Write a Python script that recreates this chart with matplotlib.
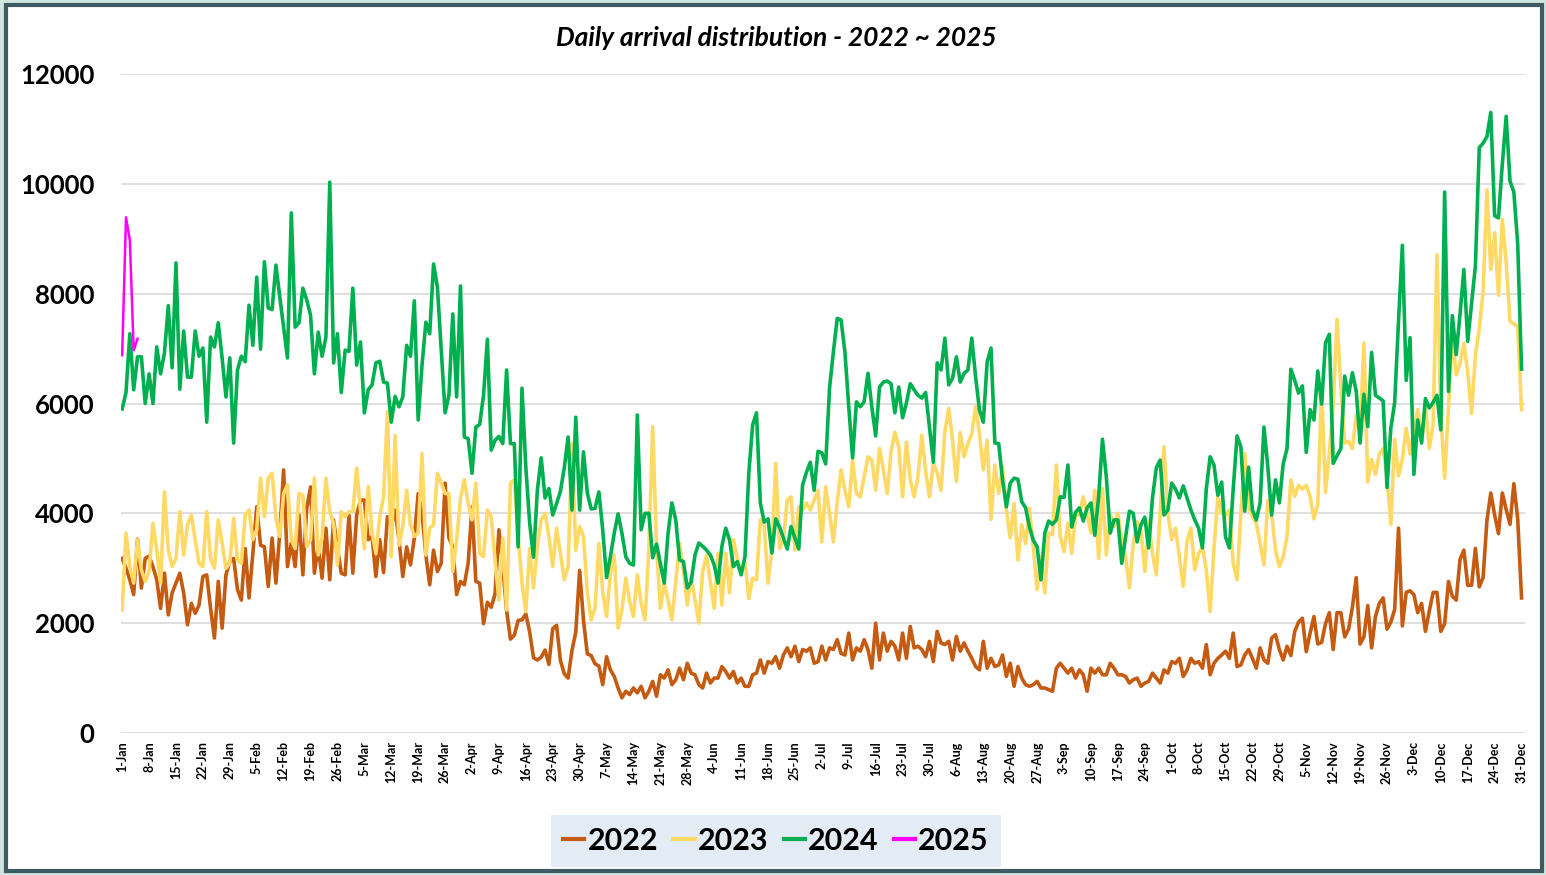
import numpy as np
import pandas as pd
import matplotlib
matplotlib.use("Agg")
import matplotlib.pyplot as plt
from matplotlib.patches import Rectangle

# daily arrivals, one row per week (1-Jan, 8-Jan, ...), last value is 31-Dec
arr_2022 = [
    3180, 3000, 2790, 2520, 3530, 2640, 3180,
    3220, 3030, 2790, 2270, 2910, 2150, 2550,
    2730, 2910, 2550, 1970, 2360, 2180, 2330,
    2850, 2880, 2270, 1730, 2760, 1910, 2880,
    3120, 3180, 2610, 2420, 3360, 2460, 3270,
    4120, 3420, 3390, 2670, 3550, 2730, 3640,
    4790, 3030, 3460, 3030, 3970, 2880, 4090,
    4480, 2910, 3390, 2820, 3730, 2790, 3880,
    3360, 2910, 2880, 3970, 2910, 3970, 4240,
    4240, 3520, 3580, 2850, 3520, 2920, 3940,
    3760, 4060, 3520, 2850, 3390, 3060, 3550,
    4360, 4000, 3240, 2700, 3330, 2940, 3090,
    4550, 3550, 3390, 2520, 2760, 2700, 3090,
    4120, 2760, 2730, 1990, 2380, 2290, 2530,
    3700, 3030, 2230, 1710, 1780, 2050, 2060,
    2170, 1840, 1370, 1330, 1380, 1510, 1250,
    1900, 1960, 1320, 1080, 1000, 1500, 1840,
    2960, 2050, 1440, 1410, 1260, 1220, 880,
    1390, 1150, 1030, 820, 640, 760, 700,
    820, 730, 850, 640, 760, 940, 670,
    1060, 1000, 1150, 880, 970, 1180, 970,
    1270, 1090, 1060, 880, 820, 1090, 910,
    1000, 1000, 1210, 1120, 1000, 1120, 910,
    1000, 850, 850, 1060, 1090, 1330, 1090,
    1300, 1270, 1390, 1180, 1420, 1550, 1390,
    1580, 1300, 1520, 1490, 1550, 1270, 1300,
    1580, 1330, 1550, 1520, 1700, 1450, 1420,
    1820, 1330, 1550, 1490, 1700, 1520, 1180,
    2000, 1330, 1820, 1490, 1670, 1580, 1330,
    1820, 1360, 1940, 1550, 1580, 1520, 1390,
    1670, 1300, 1850, 1640, 1610, 1670, 1330,
    1760, 1490, 1640, 1490, 1360, 1210, 1150,
    1670, 1180, 1360, 1210, 1240, 1420, 1030,
    1270, 850, 1210, 1000, 880, 850, 880,
    940, 820, 820, 790, 760, 1180, 1270,
    1180, 1090, 1180, 1000, 1150, 1060, 760,
    1180, 1090, 1180, 1060, 1060, 1270, 1180,
    1060, 1060, 1030, 910, 970, 1000, 850,
    910, 940, 1090, 1000, 910, 1150, 1090,
    1300, 1270, 1360, 1030, 1150, 1360, 1270,
    1300, 1180, 1610, 1060, 1270, 1360, 1420,
    1490, 1360, 1820, 1210, 1240, 1420, 1520,
    1360, 1180, 1550, 1330, 1270, 1730, 1790,
    1520, 1330, 1580, 1410, 1850, 2020, 2090,
    1480, 1820, 2120, 1620, 1650, 1990, 2190,
    1520, 2190, 2190, 1750, 1890, 2290, 2830,
    1620, 1750, 2320, 1550, 2120, 2360, 2460,
    1890, 2020, 2250, 3730, 1950, 2560, 2590,
    2520, 2190, 2360, 1850, 2220, 2560, 2560,
    1850, 1990, 2760, 2490, 2420, 3160, 3330,
    2690, 2690, 3360, 2660, 2830, 3870, 4370,
    3970, 3630, 4370, 4070, 3800, 4540, 3900,
    2460,
]

arr_2023 = [
    2240, 3640, 3030, 2730, 3520, 2970, 2760,
    2940, 3820, 3330, 2730, 4390, 3330, 3030,
    3180, 4030, 3240, 3790, 3970, 3520, 3090,
    3030, 4030, 3180, 3000, 3880, 3460, 3000,
    3090, 3910, 3150, 3090, 3970, 4060, 3520,
    3700, 4640, 3940, 4640, 4730, 3910, 3580,
    4360, 4520, 3520, 3360, 4360, 4330, 3390,
    3520, 4640, 3240, 3550, 4640, 4030, 3820,
    3060, 4030, 3940, 4030, 4030, 4820, 4060,
    3360, 4490, 3640, 3270, 3940, 4300, 5850,
    3210, 5420, 3420, 3760, 4420, 3790, 3580,
    3640, 5090, 3240, 3730, 3790, 4730, 4550,
    4360, 4360, 2940, 3520, 4270, 4610, 4180,
    3880, 4550, 3270, 3210, 4060, 3940, 3150,
    2420, 3550, 2240, 4550, 4610, 3580, 2730,
    2210, 3360, 2640, 3390, 3880, 4000, 3580,
    3030, 3730, 3270, 2790, 3030, 5270, 3330,
    3760, 3580, 2550, 2060, 2270, 3450, 2580,
    2120, 2910, 3240, 1910, 2240, 2820, 2400,
    2120, 2880, 2360, 2060, 3330, 5580, 3390,
    2270, 2730, 2420, 2060, 2760, 3450, 2970,
    2330, 2850, 2420, 2000, 2940, 3240, 2760,
    2270, 3270, 2330, 3270, 2550, 3520, 3180,
    2910, 3120, 2450, 2820, 2790, 3880, 3790,
    2730, 3330, 4910, 3360, 3520, 4240, 4300,
    3330, 4120, 4060, 4190, 4060, 4240, 4420,
    3480, 4480, 4000, 3480, 4210, 4790, 4420,
    4120, 4970, 4360, 4300, 4670, 5030, 4970,
    4420, 5180, 4790, 4360, 5120, 5480, 5210,
    4300, 5300, 4610, 4300, 4670, 5420, 4760,
    4300, 4920, 4730, 4420, 5480, 5910, 5330,
    4580, 5470, 5030, 5270, 5450, 5940, 5450,
    4790, 5330, 3890, 4880, 4360, 4850, 4060,
    3550, 4180, 3150, 3790, 3450, 4090, 3390,
    2610, 3210, 2550, 3640, 3610, 4880, 3580,
    3300, 3820, 3270, 3970, 3970, 4300, 4000,
    3640, 4420, 3180, 4450, 3240, 4000, 3760,
    4000, 3520, 3210, 2640, 3450, 3850, 3700,
    2940, 3850, 3270, 2880, 4000, 5210, 4000,
    3520, 3730, 3210, 2670, 3490, 3730, 2970,
    3270, 3390, 2970, 2210, 3360, 4300, 4000,
    3970, 4060, 3090, 2790, 4000, 5090, 4120,
    3940, 3820, 3450, 3060, 4240, 4000, 3330,
    3030, 3210, 3570, 4610, 4310, 4510, 4440,
    4510, 4310, 3900, 4170, 6290, 4380, 5110,
    5950, 7530, 6320, 5280, 5310, 5180, 5780,
    5480, 7100, 4570, 4980, 4710, 5080, 5180,
    4680, 3800, 5350, 4680, 4980, 5550, 5080,
    5480, 5890, 5310, 5950, 5180, 5620, 8710,
    5820, 4640, 5950, 7230, 6520, 6730, 7100,
    6560, 5820, 6890, 7360, 8040, 9890, 8440,
    9110, 7970, 9350, 8570, 7500, 7450, 7400,
    5890,
]

arr_2024 = [
    5900, 6200, 7270, 6250, 6850, 6850, 6000,
    6540, 6000, 7030, 6540, 6920, 7780, 6650,
    8560, 6260, 7320, 6480, 6480, 7320, 6860,
    7010, 5660, 7210, 7030, 7470, 6830, 6120,
    6830, 5280, 6610, 6860, 6760, 7790, 7060,
    8300, 6990, 8580, 7740, 7710, 8520, 7940,
    7390, 6830, 9470, 7390, 7470, 8100, 7890,
    7610, 6540, 7300, 6860, 7210, 10030, 6740,
    7270, 6200, 6970, 6950, 8100, 6700, 7120,
    5830, 6250, 6340, 6740, 6770, 6390, 6370,
    5660, 6130, 5940, 6120, 7060, 6860, 7870,
    5700, 6700, 7480, 7270, 8540, 8120, 6970,
    5830, 6150, 7630, 6120, 8140, 5390, 5360,
    4730, 5570, 5620, 6150, 7170, 5150, 5330,
    5400, 5270, 6610, 5270, 5270, 3390, 6280,
    4840, 3820, 3200, 4420, 5010, 4280, 4450,
    3970, 4180, 4400, 4830, 5390, 4060, 5750,
    4060, 5120, 4370, 4080, 4090, 4390, 3700,
    2830, 3210, 3640, 3990, 3640, 3210, 3090,
    3060, 5790, 3700, 4000, 4000, 3190, 3440,
    3090, 2730, 3640, 4190, 3880, 3150, 3120,
    2640, 2750, 3240, 3460, 3400, 3330, 3240,
    3060, 2730, 3400, 3730, 3510, 3030, 3120,
    2880, 3210, 4730, 5610, 5830, 4190, 3840,
    3900, 3280, 3900, 3750, 3550, 3350, 3760,
    3550, 3350, 4520, 4750, 4930, 4420, 5130,
    5100, 4900, 6280, 6940, 7550, 7520, 6940,
    5940, 5010, 6030, 5940, 6030, 6550, 5940,
    5410, 6300, 6390, 6410, 6360, 5830, 6300,
    5740, 6010, 6360, 6250, 6150, 6100, 6200,
    5570, 4930, 6740, 6610, 7190, 6340, 6460,
    6850, 6390, 6550, 6610, 7190, 6480, 5880,
    5660, 6760, 7010, 5280, 5270, 4610, 4120,
    4550, 4640, 4620, 4210, 4100, 3750, 3510,
    3390, 2790, 3640, 3860, 3800, 3880, 4300,
    4290, 4880, 3750, 4020, 4100, 3860, 4100,
    4190, 3600, 4300, 5350, 4660, 3640, 3880,
    3880, 3090, 3570, 4040, 4000, 3480, 3790,
    3930, 3370, 4280, 4830, 4970, 3970, 4060,
    4550, 4440, 4280, 4500, 4280, 4060, 3880,
    3730, 3370, 4440, 5030, 4880, 4330, 4570,
    3570, 3370, 4440, 5410, 5210, 4040, 4840,
    4060, 3880, 4190, 5570, 4850, 3970, 4610,
    4190, 4900, 5180, 6625, 6420, 6190, 6320,
    5110, 5890, 5700, 6590, 5990, 7100, 7260,
    4910, 5050, 5180, 6500, 6150, 6560, 6220,
    5280, 6170, 5580, 6930, 6150, 6100, 6050,
    4470, 5550, 6020, 7500, 8880, 6420, 7200,
    4710, 5700, 5280, 6090, 5920, 6020, 6150,
    5520, 9850, 6220, 7600, 6890, 7630, 8440,
    7130, 7830, 8510, 10660, 10740, 10860, 11300,
    9420, 9380, 10360, 11230, 10050, 9850, 8910,
    6625,
]

arr_2025 = [6880, 9390, 8970, 6970, 7180]

years = ["2022", "2023", "2024", "2025"]
colors = ["#c55a11", "#ffd966", "#00b050", "#ff00ff"]
tick_dates = pd.date_range("2022-01-01", "2022-12-31", freq="7D")
tick_labels = [f"{d.day}-{d.strftime('%b')}" for d in tick_dates]

plt.rcParams["font.family"] = ["Lato", "DejaVu Sans"]

fig = plt.figure(figsize=(15.46, 8.75), dpi=100)
fig.patch.set_facecolor("#cfe6df")
# white card with dark border, behind everything
fig.patches.append(Rectangle((6 / 1546, 4 / 875), 1536 / 1546, 866 / 875,
                             transform=fig.transFigure, facecolor="white",
                             edgecolor="#3e5a62", linewidth=3, zorder=-5))

ax = fig.add_axes([121 / 1546, 1 - 733 / 875, 1404 / 1546, 659 / 875])
ax.set_facecolor("none")

series = [arr_2022, arr_2023, arr_2024, arr_2025]
for vals, yr, c in zip(series, years, colors):
    days = np.arange(len(vals))
    lw = 2.6 if yr != "2025" else 1.8
    ax.plot(days, vals, color=c, lw=lw, label=yr, solid_joinstyle="round")

ax.set_xlim(-0.3, 364.9)
ax.set_ylim(0, 12000)
ax.set_yticks(range(0, 12001, 2000))
ax.set_xticks(np.arange(0, 365, 7))
ax.set_xticklabels(tick_labels, rotation=90, fontsize=9, fontweight="bold")
ax.tick_params(axis="x", length=0, pad=6)
ax.tick_params(axis="y", length=0, pad=19, labelsize=18.5)
for lab in ax.get_yticklabels():
    lab.set_fontweight("bold")
ax.grid(axis="y", color="#d9d9d9", lw=1.2)
ax.set_axisbelow(True)
for s in ax.spines.values():
    s.set_visible(False)

fig.text(776 / 1546, 1 - 38 / 875, "Daily arrival distribution - 2022 ~ 2025",
         ha="center", va="center", fontsize=19, fontweight="bold", style="italic")

leg = fig.legend(loc="center", bbox_to_anchor=(776 / 1546, 1 - 841 / 875), ncol=4,
                 frameon=True, fancybox=False, facecolor="#dce6f2", edgecolor="#dce6f2",
                 prop={"size": 22, "weight": "bold"}, handlelength=0.7,
                 handletextpad=0.1, columnspacing=0.5, borderpad=0.4)
leg.get_frame().set_linewidth(0)
for h in leg.get_lines():
    h.set_linewidth(3)

fig.savefig("out.png", dpi=100, facecolor=fig.get_facecolor())
